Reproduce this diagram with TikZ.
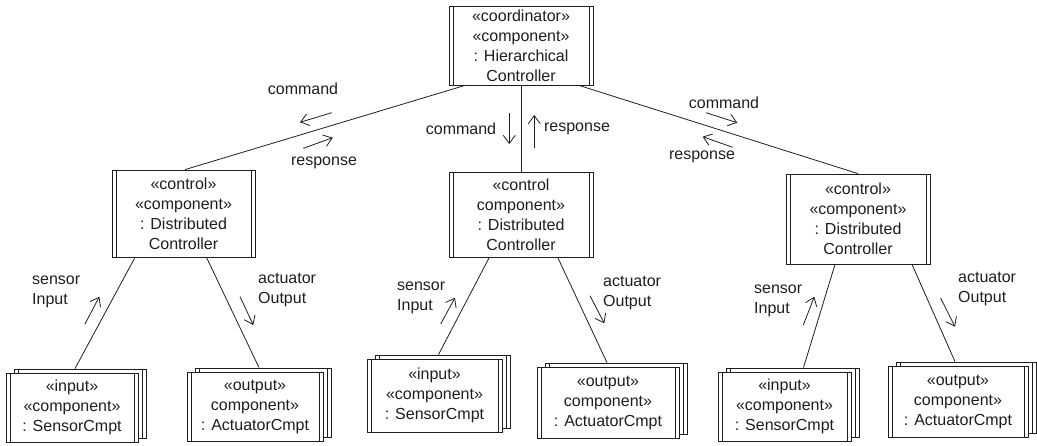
\documentclass[tikz,border=0pt]{standalone}
\usepackage{fontspec}
\setmainfont{Liberation Sans}
\usetikzlibrary{arrows.meta}
\definecolor{ink}{HTML}{1E1E1E}
\begin{document}
\begin{tikzpicture}[x=1pt,y=-1pt,
  font=\fontsize{16}{20}\selectfont,
  comp/.style={draw=ink, fill=white, line width=0.8pt, inner sep=0pt,
    align=center, text=ink,
    path picture={
      \draw[ink, line width=0.8pt] ([xshift=4pt]path picture bounding box.north west) -- ([xshift=4pt]path picture bounding box.south west);
      \draw[ink, line width=0.8pt] ([xshift=-4pt]path picture bounding box.north east) -- ([xshift=-4pt]path picture bounding box.south east);
    }},
  link/.style={draw=ink, line width=0.8pt},
  flow/.style={draw=ink, line width=0.8pt, -{Straight Barb[length=8pt,width=12pt]}},
  lbl/.style={text=ink, inner sep=0pt}
]
\useasboundingbox (0,0) rectangle (1037,445);

% top coordinator
\node[comp, minimum width=144pt, minimum height=79pt] (top) at (521,45.5)
  {«coordinator»\\«component»\\: Hierarchical\\Controller};

% distributed controllers
\node[comp, minimum width=143pt, minimum height=87pt] (lc) at (183.5,213.5)
  {«control»\\«component»\\: Distributed\\Controller};
\node[comp, minimum width=144pt, minimum height=85pt] (mc) at (521,214.5)
  {«control\\component»\\: Distributed\\Controller};
\node[comp, minimum width=144pt, minimum height=90pt] (rc) at (858,219)
  {«control»\\«component»\\: Distributed\\Controller};

% bottom stacked components (back copies first)
\node[comp, minimum width=132pt, minimum height=69pt] (lsb) at (80,403.5) {};
\node[comp, minimum width=132pt, minimum height=69pt] (ls) at (72,407.5)
  {«input»\\«component»\\: SensorCmpt};
\node[comp, minimum width=136pt, minimum height=69pt] (lab) at (263,402.5) {};
\node[comp, minimum width=136pt, minimum height=69pt] (la) at (255,406.5)
  {«output»\\component»\\: ActuatorCmpt};

\node[comp, minimum width=135pt, minimum height=73pt] (msb) at (442.5,391.5) {};
\node[comp, minimum width=135pt, minimum height=73pt] (ms) at (434.5,395.5)
  {«input»\\«component»\\: SensorCmpt};
\node[comp, minimum width=142pt, minimum height=71pt] (mab) at (616,398.5) {};
\node[comp, minimum width=142pt, minimum height=71pt] (ma) at (608,402.5)
  {«output»\\component»\\: ActuatorCmpt};

\node[comp, minimum width=133pt, minimum height=69pt] (rsb) at (792.5,402.5) {};
\node[comp, minimum width=133pt, minimum height=69pt] (rs) at (784.5,406.5)
  {«input»\\«component»\\: SensorCmpt};
\node[comp, minimum width=140pt, minimum height=71pt] (rab) at (966,397.5) {};
\node[comp, minimum width=140pt, minimum height=71pt] (ra) at (958,401.5)
  {«output»\\component»\\: ActuatorCmpt};

% connectors
\draw[link] ([xshift=-56pt]top.south) -- ([xshift=1.5pt]lc.north);
\draw[link] (top.south) -- (mc.north);
\draw[link] ([xshift=58pt]top.south) -- (rc.north);

\draw[link] ([xshift=-48.5pt]lc.south) -- ([xshift=-5pt]lsb.north);
\draw[link] ([xshift=23pt]lc.south) -- ([xshift=-4pt]lab.north);
\draw[link] ([xshift=-31.7pt]mc.south) -- ([xshift=-4pt]msb.north);
\draw[link] ([xshift=36.7pt]mc.south) -- ([xshift=-9pt]mab.north);
\draw[link] ([xshift=-23pt]rc.south) -- ([xshift=11pt]rsb.north);
\draw[link] ([xshift=54pt]rc.south) -- ([xshift=-11pt]rab.north);

% labels
\node[lbl] (cmdL) at (303,89) {command};
\node[lbl] (respL) at (324,163) {response};
\node[lbl] (cmdM) at (461,129) {command};
\node[lbl] (respM) at (577,129) {response};
\node[lbl] (cmdR) at (724,103) {command};
\node[lbl] (respR) at (702,157) {response};

\node[lbl, align=left, anchor=west] (sinL) at (32,291.5) {sensor\\Input};
\node[lbl, align=left, anchor=west] (sinM) at (397,298) {sensor\\Input};
\node[lbl, align=left, anchor=west] (sinR) at (754,300.5) {sensor\\Input};
\node[lbl, align=left, anchor=west] (aoL) at (258,290) {actuator\\Output};
\node[lbl, align=left, anchor=west] (aoM) at (603,292.5) {actuator\\Output};
\node[lbl, align=left, anchor=west] (aoR) at (958,289) {actuator\\Output};

% flow arrows
\draw[flow] (331.7,112.7) -- (300,122.3);
\draw[flow] (303.3,148.3) -- (332.7,137.7);
\draw[flow] (509.3,113.3) -- (509.3,144);
\draw[flow] (534.3,148.3) -- (534.3,115);
\draw[flow] (706,112.7) -- (737.3,122.7);
\draw[flow] (732.7,147.3) -- (702.7,136.7);

\draw[flow] (85,324) -- (99.3,296.7);
\draw[flow] (240,296.7) -- (253.3,325);
\draw[flow] (440.7,324) -- (455,297.7);
\draw[flow] (590,295.7) -- (604.3,323.3);
\draw[flow] (803.3,325) -- (814.3,296.7);
\draw[flow] (940.7,298.3) -- (955,326.7);
\end{tikzpicture}
\end{document}
